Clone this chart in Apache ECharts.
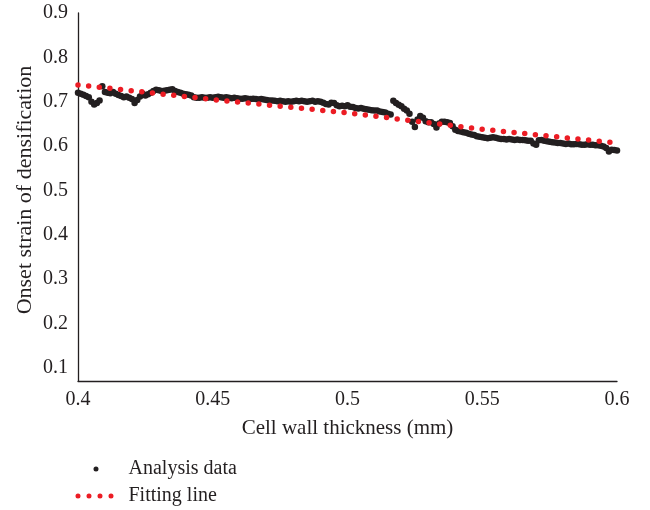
<!DOCTYPE html>
<html>
<head>
<meta charset="utf-8">
<title>Onset strain of densification</title>
<script src="https://cdn.jsdelivr.net/npm/echarts@6/dist/echarts.min.js"></script>
<style>
  html, body { margin: 0; padding: 0; background: #fff; }
  #chart { width: 650px; height: 510px; }
</style>
</head>
<body>
<div id="chart"></div>
<script>
  // cell wall thickness (mm) of each analysis point
  const thickness = [
    0.400, 0.401, 0.402, 0.403, 0.404, 0.405, 0.406, 0.407, 0.408, 0.409,
    0.410, 0.411, 0.412, 0.413, 0.414, 0.415, 0.416, 0.417, 0.418, 0.419,
    0.420, 0.421, 0.422, 0.423, 0.424, 0.425, 0.426, 0.427, 0.428, 0.429,
    0.430, 0.431, 0.432, 0.433, 0.434, 0.435, 0.436, 0.437, 0.438, 0.439,
    0.440, 0.441, 0.442, 0.443, 0.444, 0.445, 0.446, 0.447, 0.448, 0.449,
    0.450, 0.451, 0.452, 0.453, 0.454, 0.455, 0.456, 0.457, 0.458, 0.459,
    0.460, 0.461, 0.462, 0.463, 0.464, 0.465, 0.466, 0.467, 0.468, 0.469,
    0.470, 0.471, 0.472, 0.473, 0.474, 0.475, 0.476, 0.477, 0.478, 0.479,
    0.480, 0.481, 0.482, 0.483, 0.484, 0.485, 0.486, 0.487, 0.488, 0.489,
    0.490, 0.491, 0.492, 0.493, 0.494, 0.495, 0.496, 0.497, 0.498, 0.499,
    0.500, 0.501, 0.502, 0.503, 0.504, 0.505, 0.506, 0.507, 0.508, 0.509,
    0.510, 0.511, 0.512, 0.513, 0.514, 0.515, 0.516, 0.517, 0.518, 0.519,
    0.520, 0.521, 0.522, 0.523, 0.524, 0.525, 0.526, 0.527, 0.528, 0.529,
    0.530, 0.531, 0.532, 0.533, 0.534, 0.535, 0.536, 0.537, 0.538, 0.539,
    0.540, 0.541, 0.542, 0.543, 0.544, 0.545, 0.546, 0.547, 0.548, 0.549,
    0.550, 0.551, 0.552, 0.553, 0.554, 0.555, 0.556, 0.557, 0.558, 0.559,
    0.560, 0.561, 0.562, 0.563, 0.564, 0.565, 0.566, 0.567, 0.568, 0.569,
    0.570, 0.571, 0.572, 0.573, 0.574, 0.575, 0.576, 0.577, 0.578, 0.579,
    0.580, 0.581, 0.582, 0.583, 0.584, 0.585, 0.586, 0.587, 0.588, 0.589,
    0.590, 0.591, 0.592, 0.593, 0.594, 0.595, 0.596, 0.597, 0.598, 0.599,
    0.600
  ]

  // onset strain of densification (analysis data)
  const onsetStrain = [
    0.720, 0.718, 0.716, 0.713, 0.710, 0.700, 0.694, 0.697, 0.703, 0.735,
    0.722, 0.720, 0.719, 0.722, 0.718, 0.715, 0.713, 0.710, 0.712, 0.709,
    0.706, 0.697, 0.704, 0.712, 0.718, 0.714, 0.717, 0.720, 0.724, 0.727,
    0.726, 0.724, 0.725, 0.726, 0.727, 0.728, 0.724, 0.722, 0.720, 0.718,
    0.717, 0.716, 0.714, 0.710, 0.709, 0.709, 0.710, 0.709, 0.709, 0.710,
    0.709, 0.710, 0.711, 0.710, 0.709, 0.710, 0.709, 0.708, 0.709, 0.708,
    0.707, 0.707, 0.708, 0.707, 0.706, 0.707, 0.706, 0.705, 0.706, 0.705,
    0.704, 0.703, 0.703, 0.702, 0.701, 0.702, 0.701, 0.700, 0.701, 0.700,
    0.701, 0.702, 0.701, 0.702, 0.701, 0.700, 0.701, 0.702, 0.700, 0.701,
    0.700, 0.698, 0.695, 0.694, 0.698, 0.697, 0.692, 0.690, 0.691, 0.690,
    0.692, 0.689, 0.688, 0.686, 0.685, 0.686, 0.684, 0.683, 0.682, 0.681,
    0.680, 0.680, 0.678, 0.677, 0.676, 0.673, 0.671, 0.702, 0.697, 0.693,
    0.690, 0.684, 0.680, 0.673, 0.655, 0.643, 0.660, 0.668, 0.664, 0.656,
    0.654, 0.654, 0.650, 0.642, 0.651, 0.655, 0.655, 0.654, 0.652, 0.645,
    0.637, 0.634, 0.633, 0.631, 0.630, 0.628, 0.626, 0.625, 0.622, 0.621,
    0.620, 0.619, 0.618, 0.619, 0.620, 0.619, 0.617, 0.616, 0.616, 0.615,
    0.616, 0.615, 0.614, 0.615, 0.614, 0.614, 0.613, 0.612, 0.612, 0.606,
    0.603, 0.613, 0.614, 0.612, 0.611, 0.610, 0.609, 0.608, 0.607, 0.607,
    0.606, 0.605, 0.606, 0.604, 0.604, 0.605, 0.604, 0.603, 0.603, 0.604,
    0.603, 0.603, 0.602, 0.602, 0.601, 0.599, 0.596, 0.588, 0.592, 0.591,
    0.590
  ]

  // fitting line, read at the x ticks
  const fitThickness = [0.40, 0.45, 0.50, 0.55, 0.60]
  const fitStrain = [0.738, 0.705, 0.675, 0.638, 0.607]

  const yTickLabels = [0.1, 0.2, 0.3, 0.4, 0.5, 0.6, 0.7, 0.8, 0.9]
  const seriesNames = ['Analysis data', 'Fitting line']

  const ink = '#231f20'
  const red = '#ec1c24'
  const font = '"Liberation Serif", "DejaVu Serif", serif'
  const fontSize = 20

  // four small dots, like the dotted line key
  const dotsIcon = 'path://M0,2.5a2.5,2.5 0 1,0 5,0a2.5,2.5 0 1,0 -5,0Z' +
      'M11,2.5a2.5,2.5 0 1,0 5,0a2.5,2.5 0 1,0 -5,0Z' +
      'M22,2.5a2.5,2.5 0 1,0 5,0a2.5,2.5 0 1,0 -5,0Z' +
      'M33,2.5a2.5,2.5 0 1,0 5,0a2.5,2.5 0 1,0 -5,0Z'
  // one small dot in the middle of the same box
  const dotIcon = 'path://M0,2.5L0.01,2.5ZM18,2.5a2.5,2.5 0 1,0 5,0a2.5,2.5 0 1,0 -5,0ZM37.99,2.5L38,2.5Z'

  const legendText = { fontFamily: font, fontSize: fontSize, color: ink, padding: [0, 0, 0, 10] }

  const chart = echarts.init(document.getElementById('chart'), null, { renderer: 'canvas' })

  chart.setOption({
      animation: false,
      textStyle: { fontFamily: font, color: ink },
      grid: {
          left: 78,
          right: 33,
          top: 13,
          bottom: 129,
          containLabel: false
      },
      xAxis: {
          type: 'value',
          min: 0.4,
          max: 0.6,
          interval: 0.05,
          name: 'Cell wall thickness (mm)',
          nameLocation: 'middle',
          nameGap: 37,
          nameTextStyle: { fontFamily: font, fontSize: 21, color: ink },
          axisLine: { lineStyle: { color: ink, width: 1.3 } },
          axisTick: { show: false },
          splitLine: { show: false },
          axisLabel: { fontFamily: font, fontSize: fontSize, color: ink, margin: 9 }
      },
      yAxis: {
          type: 'value',
          min: 0.0707,
          max: 0.9,
          name: 'Onset strain of densification',
          nameLocation: 'middle',
          nameGap: 42,
          nameMoveOverlap: false,
          nameTextStyle: { fontFamily: font, fontSize: 22, color: ink, padding: [0, 0, 0, 14] },
          axisLine: { show: true, lineStyle: { color: ink, width: 1.3 } },
          axisTick: { show: false },
          splitLine: { show: false },
          axisLabel: {
              fontFamily: font,
              fontSize: fontSize,
              color: ink,
              margin: 10,
              customValues: yTickLabels,
              formatter: v => v.toFixed(1)
          }
      },
      legend: [
          {
              left: 75.5,
              top: 459,
              padding: 0,
              itemWidth: 38,
              itemHeight: 5,
              textStyle: legendText,
              data: [{ name: seriesNames[0], icon: dotIcon }]
          },
          {
              left: 75.5,
              top: 486,
              padding: 0,
              itemWidth: 38,
              itemHeight: 5,
              textStyle: legendText,
              data: [{ name: seriesNames[1], icon: dotsIcon }]
          }
      ],
      series: [
          {
              name: seriesNames[0],
              type: 'scatter',
              data: thickness.map((t, i) => [t, onsetStrain[i]]),
              symbol: 'circle',
              symbolSize: 6.5,
              itemStyle: { color: ink, opacity: 1 }
          },
          {
              name: seriesNames[1],
              type: 'line',
              data: fitThickness.map((t, i) => [t, fitStrain[i]]),
              symbol: 'none',
              showSymbol: false,
              itemStyle: { color: red },
              lineStyle: { color: red, width: 5.5, type: [0, 10.7], cap: 'round' },
              z: 3
          }
      ]
  })
</script>
</body>
</html>
